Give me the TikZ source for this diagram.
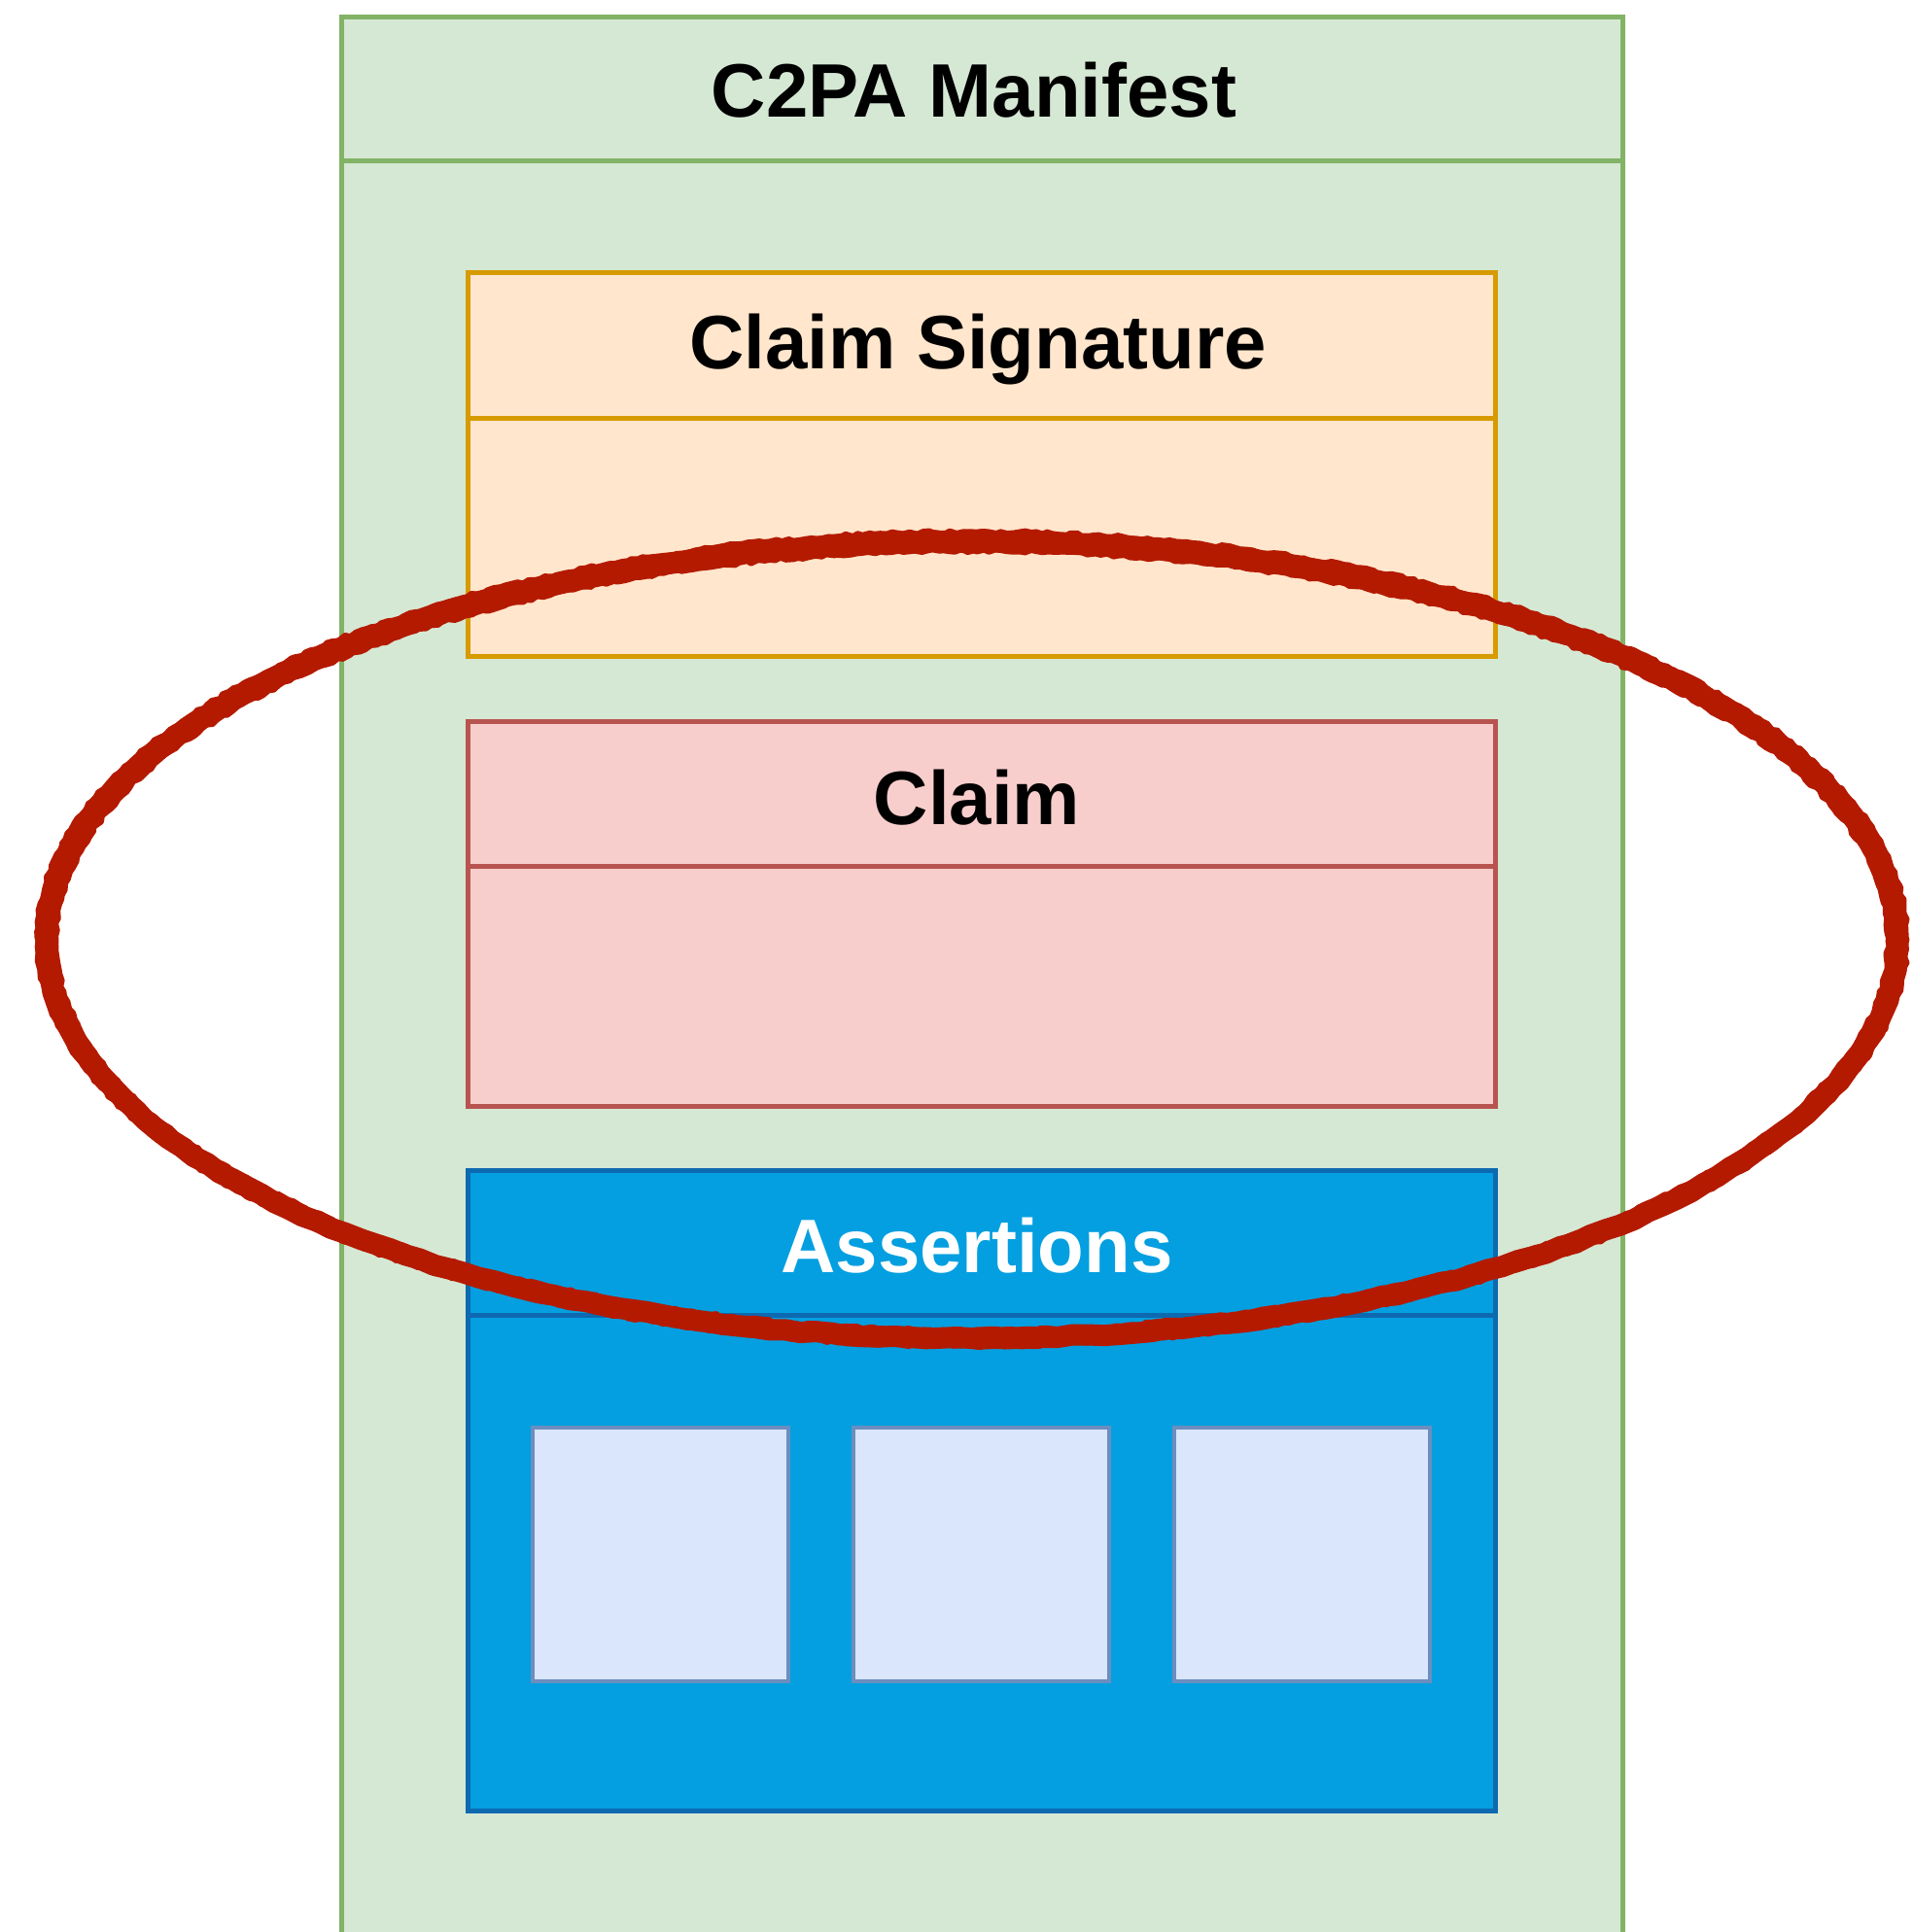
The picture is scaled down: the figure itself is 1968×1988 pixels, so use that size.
\documentclass[tikz,border=0pt]{standalone}
\usepackage{fontspec}
\setmainfont{Liberation Sans}
\usetikzlibrary{decorations.pathmorphing}
\definecolor{mfill}{HTML}{D5E8D4}
\definecolor{mline}{HTML}{82B366}
\definecolor{sfill}{HTML}{FFE6CC}
\definecolor{sline}{HTML}{D79B00}
\definecolor{cfill}{HTML}{F8CECC}
\definecolor{cline}{HTML}{B85450}
\definecolor{afill}{HTML}{049FE0}
\definecolor{aline}{HTML}{0D69B0}
\definecolor{bfill}{HTML}{DAE6FC}
\definecolor{bline}{HTML}{6C8EBF}
\definecolor{ink}{HTML}{B41A00}
\tikzset{
  box/.style={draw, line width=2.5pt, rectangle, inner sep=0pt, anchor=north west},
  title/.style={font=\bfseries\fontsize{39}{44}\selectfont, inner sep=0pt},
  item/.style={draw=bline, fill=bfill, line width=2pt, rectangle, inner sep=0pt,
    anchor=north west, minimum width=131.5pt, minimum height=130.5pt},
  ring/.style={draw=ink, line width=11pt, line join=round, decorate,
    decoration={random steps, segment length=8pt, amplitude=0.6pt}},
  ringedge/.style={draw=ink, line width=2.5pt, line join=round, decorate,
    decoration={random steps, segment length=3pt, amplitude=0.8pt}},
}
\begin{document}
\begin{tikzpicture}[x=0.5pt, y=-0.5pt]
\clip (0,0) rectangle (1968,1988);
\fill[white] (0,0) rectangle (1968,1988);

% manifest container (runs off the bottom)
\node[box, draw=mline, fill=mfill, minimum width=659pt, minimum height=1100pt] (man) at (349,15) {};
\draw[mline, line width=2.5pt] (349,165) -- (1667,165);
\node[title] (mant) at (1002,93) {C2PA Manifest};

% claim signature
\node[box, draw=sline, fill=sfill, minimum width=528.5pt, minimum height=197.5pt] (sig) at (479,278) {};
\draw[sline, line width=2.5pt] (sig.west |- 0,430) -- (sig.east |- 0,430);
\node[title] (sigt) at (1006,359) {Claim Signature};

% claim
\node[box, draw=cline, fill=cfill, minimum width=528.5pt, minimum height=198pt] (clm) at (479,740) {};
\draw[cline, line width=2.5pt] (clm.west |- 0,891) -- (clm.east |- 0,891);
\node[title] (clmt) at (1005,821) {Claim};

% assertions
\node[box, draw=aline, fill=afill, minimum width=528.5pt, minimum height=329.5pt] (asr) at (479,1202) {};
\draw[aline, line width=2.5pt] (asr.west |- 0,1353) -- (asr.east |- 0,1353);
\node[title, text=white] (asrt) at (1005,1282) {Assertions};
\node[item] (a1) at (546,1467) {};
\node[item] (a2) at (876,1467) {};
\node[item] (a3) at (1206,1467) {};

% hand-drawn loop around the claim
\draw[ring] (1000,967) ellipse [x radius=952, y radius=410];
\draw[ringedge] (1000,966) ellipse [x radius=962, y radius=419];
\draw[ringedge] (1000,968) ellipse [x radius=942, y radius=401];
\end{tikzpicture}
\end{document}
